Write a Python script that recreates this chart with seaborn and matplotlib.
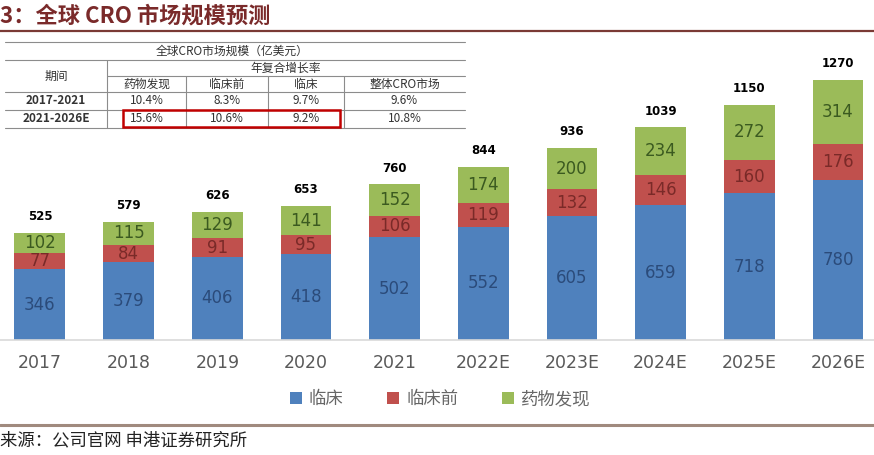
import matplotlib
matplotlib.use("Agg")
import matplotlib.pyplot as plt
import seaborn as sns
import pandas as pd
from matplotlib.patches import Patch, Rectangle
from matplotlib.lines import Line2D

# chart data (亿美元)
years = ["2017", "2018", "2019", "2020", "2021", "2022E", "2023E", "2024E", "2025E", "2026E"]
clinical = [346, 379, 406, 418, 502, 552, 605, 659, 718, 780]
preclinical = [77, 84, 91, 95, 106, 119, 132, 146, 160, 176]
discovery = [102, 115, 129, 141, 152, 174, 200, 234, 272, 314]
totals = [525, 579, 626, 653, 760, 844, 936, 1039, 1150, 1270]

# inset table data
table_title = "全球CRO市场规模（亿美元）"
table_group = "年复合增长率"
table_cols = ["药物发现", "临床前", "临床", "整体CRO市场"]
table_periods = ["2017-2021", "2021-2026E"]
table_rows = [["10.4%", "8.3%", "9.7%", "9.6%"],
              ["15.6%", "10.6%", "9.2%", "10.8%"]]

series_names = ["临床", "临床前", "药物发现"]
colors = ["#4f81bd", "#c0504d", "#9bbb59"]
label_colors = ["#2b4b7a", "#7a2a28", "#3b5a20"]

sns.set_style("white")
plt.rcParams["font.family"] = ["DejaVu Sans", "Noto Sans CJK SC"]
CJK = ["Noto Sans CJK SC", "DejaVu Sans"]

W, H = 874, 455
fig = plt.figure(figsize=(W / 100, H / 100), dpi=100)


def fp(x, y):
    return x / W, 1 - y / H


df = pd.DataFrame({"year": years, "clinical": clinical,
                   "preclinical": preclinical, "discovery": discovery})
df["lvl2"] = df["clinical"] + df["preclinical"]
df["lvl3"] = df["lvl2"] + df["discovery"]

ax = fig.add_axes([0, 115 / H, 1, 286.6 / H])
for col, c in [("lvl3", colors[2]), ("lvl2", colors[1]), ("clinical", colors[0])]:
    sns.barplot(data=df, x="year", y=col, color=c, width=0.575,
                saturation=1, linewidth=0, ax=ax)

# segment labels
for i in range(len(years)):
    bottoms = [0, clinical[i], clinical[i] + preclinical[i]]
    vals = [clinical[i], preclinical[i], discovery[i]]
    for b, v, lc in zip(bottoms, vals, label_colors):
        ax.text(i, b + v / 2, str(v), ha="center", va="center",
                fontsize=12, color=lc)
    ax.annotate(str(totals[i]), (i, df["lvl3"][i]), xytext=(0, 7),
                textcoords="offset points", ha="center", va="bottom",
                fontsize=8.5, fontweight="bold", color="black")

ax.set_xlim(-0.451, 9.406)
ax.set_ylim(0, 1400)
ax.set_xlabel("")
ax.set_ylabel("")
ax.set_yticks([])
ax.tick_params(axis="x", length=0, pad=10, labelsize=12.5, labelcolor="#595959")
for s in ["top", "left", "right"]:
    ax.spines[s].set_visible(False)
ax.spines["bottom"].set_color("#d9d9d9")
ax.spines["bottom"].set_linewidth(1.2)

# legend
handles = [Patch(facecolor=c, edgecolor="none") for c in colors]
fig.legend(handles, series_names, loc="center", bbox_to_anchor=fp(440, 399),
           ncol=3, frameon=False, handlelength=0.7, handleheight=0.7,
           handletextpad=0.4, columnspacing=2.5,
           prop={"family": CJK, "size": 12.5}, labelcolor="#666666")

# title and rules
fig.text(*fp(0, 16), "3：全球 CRO 市场规模预测", ha="left", va="center",
         fontsize=16, fontweight="bold", color="#7a2a2a", family=CJK)
fig.add_artist(Line2D([0, 1], [fp(0, 31)[1]] * 2, color="#7a3a35", lw=1.6))
fig.add_artist(Line2D([0, 1], [fp(0, 425)[1]] * 2, color="#a08a7e", lw=2.2))
fig.text(*fp(0, 440), "来源：公司官网 申港证券研究所", ha="left", va="center",
         fontsize=12.5, style="italic", color="#222222", family=CJK)

# inset table
tx0, tx1 = 5, 465
rows_y = [42, 60, 76, 92, 110, 128]
col_x = [5, 107, 186, 268, 344, 465]
fig.add_artist(Rectangle(fp(tx0, rows_y[-1]), (tx1 - tx0) / W,
                         (rows_y[-1] - rows_y[0]) / H, transform=fig.transFigure,
                         facecolor="white", edgecolor="none", zorder=5))
lc = "#8c8c8c"
for k, y in enumerate(rows_y):
    x_start = col_x[1] if k == 2 else tx0
    fig.add_artist(Line2D([x_start / W, tx1 / W], [fp(0, y)[1]] * 2,
                          color=lc, lw=0.8, zorder=6))
for k, x in enumerate(col_x[1:-1]):
    y_top = rows_y[1] if k == 0 else rows_y[2]
    fig.add_artist(Line2D([x / W] * 2, [fp(0, y_top)[1], fp(0, rows_y[-1])[1]],
                          color=lc, lw=0.8, zorder=6))

tkw = dict(ha="center", va="center", fontsize=8.5, color="#333333",
           family=CJK, zorder=7)
fig.text(*fp(232, 51), table_title, **tkw)
fig.text(*fp(286, 68), table_group, **tkw)
fig.text(*fp(56, 76), "期间", **tkw)
for j, name in enumerate(table_cols):
    xc = (col_x[j + 1] + col_x[j + 2]) / 2
    fig.text(*fp(xc, 84), name, **tkw)
for r, (period, vals) in enumerate(zip(table_periods, table_rows)):
    yc = (rows_y[3 + r] + rows_y[4 + r]) / 2
    fig.text(*fp(56, yc), period, fontweight="bold", **tkw)
    for j, v in enumerate(vals):
        xc = (col_x[j + 1] + col_x[j + 2]) / 2
        fig.text(*fp(xc, yc), v, **tkw)

# highlight box
fig.add_artist(Rectangle(fp(123, 127), (340 - 123) / W, 17 / H,
                         transform=fig.transFigure, facecolor="none",
                         edgecolor="#c00000", lw=1.8, zorder=8))

fig.savefig("out.png", dpi=100)
